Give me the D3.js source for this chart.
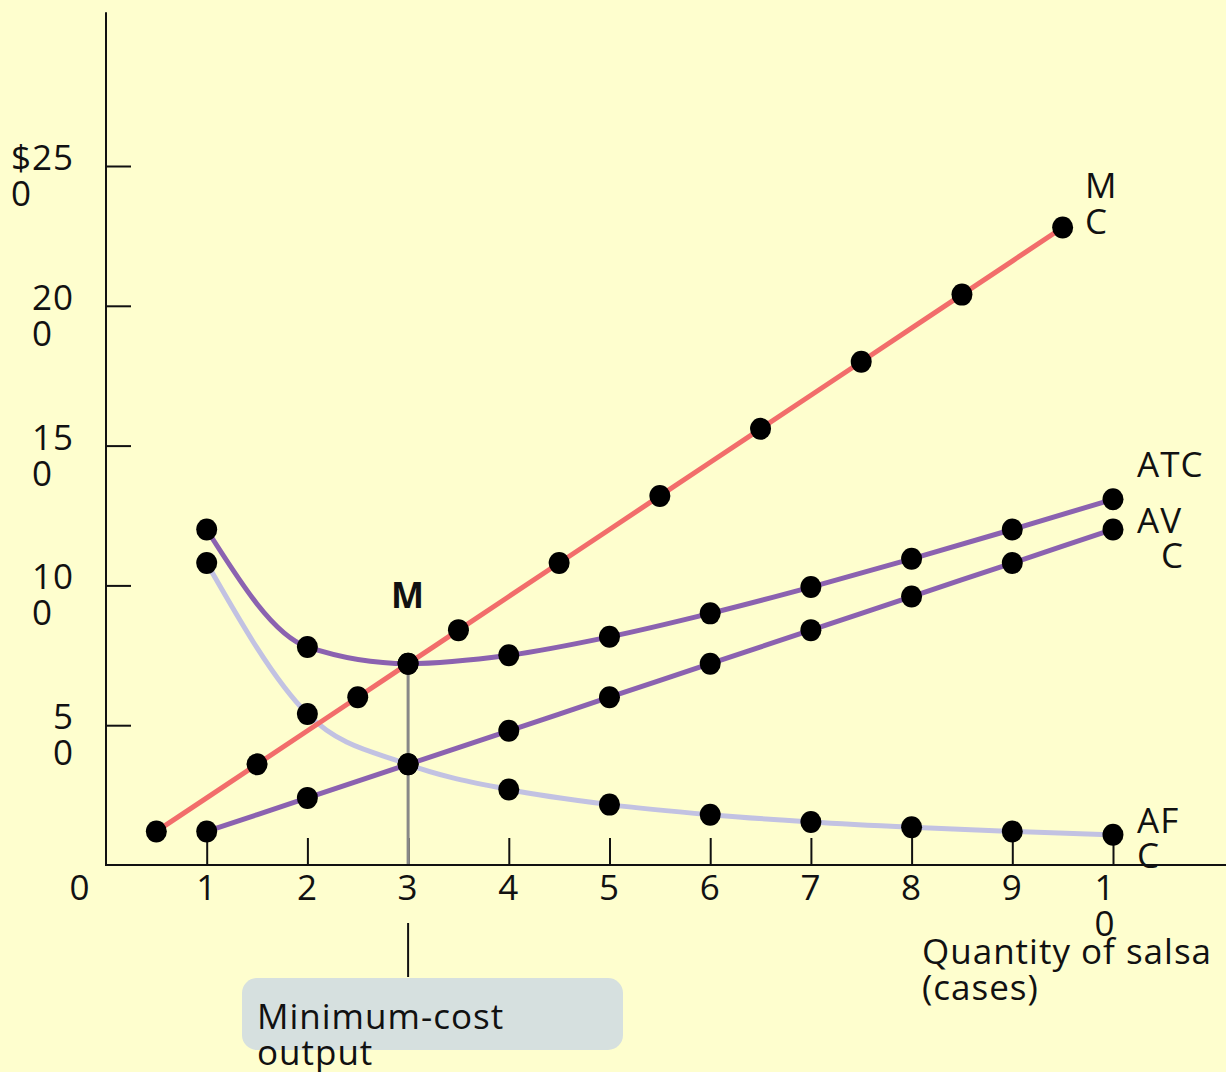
<!DOCTYPE html>
<html>
<head>
<meta charset="utf-8">
<script src="https://cdn.jsdelivr.net/npm/d3@7"></script>
<style>
  html, body { margin: 0; padding: 0; background: #FEFECE; }
  svg { display: block; }
  text { font-family: "Open Sans", "Noto Sans", sans-serif; fill: #111; letter-spacing: 1px; }
</style>
</head>
<body>
<svg id="chart" width="1226" height="1072"></svg>
<script>
// Output quantities (cases of salsa) and cost per case
const quantities = [1, 2, 3, 4, 5, 6, 7, 8, 9, 10];
const afc = [108, 54, 36, 27, 21.6, 18, 15.4, 13.5, 12, 10.8];
const avc = [12, 24, 36, 48, 60, 72, 84, 96, 108, 120];
const atc = [120, 78, 72, 75, 81.6, 90, 99.4, 109.5, 120, 130.8];
// Marginal cost is plotted at midpoints between output levels (plus the minimum point at 3)
const mcQuantities = [0.5, 1.5, 2.5, 3, 3.5, 4.5, 5.5, 6.5, 7.5, 8.5, 9.5];
const mc = [12, 36, 60, 72, 84, 108, 132, 156, 180, 204, 228];

const xTicks = [1, 2, 3, 4, 5, 6, 7, 8, 9, 10];
const xTickLabels = [["1"], ["2"], ["3"], ["4"], ["5"], ["6"], ["7"], ["8"], ["9"], ["1", "0"]];
const yTicks = [50, 100, 150, 200, 250];
const yTickLabels = [["5", "0"], ["10", "0"], ["15", "0"], ["20", "0"], ["$25", "0"]];
const minCostQ = 3;
const minCostATC = 72;

const svg = d3.select("#chart");
const W = 1226, H = 1072;

svg.append("rect").attr("width", W).attr("height", H).attr("fill", "#FEFECE");

const x = d3.scaleLinear().domain([0, 10]).range([106, 1113]);
const y = d3.scaleLinear().domain([0, 250]).range([865, 166]);
const yTop = 305;

const FS = 35;
const g = svg.append("g");

// Axis lines
g.append("line").attr("x1", x(0)).attr("x2", x(0)).attr("y1", y(yTop)).attr("y2", y(0))
  .attr("stroke", "#111").attr("stroke-width", 2);
g.append("line").attr("x1", x(0) - 1).attr("x2", W).attr("y1", y(0)).attr("y2", y(0))
  .attr("stroke", "#111").attr("stroke-width", 2);

// Tick marks: y ticks point right, x ticks point up
const yAxis = d3.axisRight(y).tickValues(yTicks).tickSize(25).tickFormat("");
const yAxisG = g.append("g").attr("transform", `translate(${x(0)},0)`).call(yAxis);
const xAxis = d3.axisTop(x).tickValues(xTicks).tickSize(27).tickFormat("");
const xAxisG = g.append("g").attr("transform", `translate(0,${y(0)})`).call(xAxis);
[yAxisG, xAxisG].forEach(a => {
  a.select(".domain").remove();
  a.selectAll(".tick line").attr("stroke", "#111").attr("stroke-width", 2);
});

// Y tick labels: first line right-aligned, second line starts under the first
yTicks.forEach((v, i) => {
  const lines = yTickLabels[i];
  const t = g.append("text").attr("font-size", FS);
  const first = t.append("tspan").attr("x", 0).attr("y", y(v) + 4).text(lines[0]);
  const w = first.node().getComputedTextLength();
  const x0 = 74 - w;
  first.attr("x", x0);
  t.append("tspan").attr("x", x0).attr("y", y(v) + 40).text(lines[1]);
});

// X tick labels
xTicks.forEach((v, i) => {
  const lines = xTickLabels[i];
  const t = g.append("text").attr("font-size", FS).attr("text-anchor", "middle");
  const cx = lines.length > 1 ? x(v) - 8 : x(v);
  lines.forEach((s, j) => t.append("tspan").attr("x", cx).attr("y", 900 + j * 36).text(s));
});
g.append("text").attr("font-size", FS).attr("text-anchor", "middle")
  .attr("x", 80).attr("y", 900).text("0");

// Axis title
const xt = g.append("text").attr("font-size", FS);
xt.append("tspan").attr("x", 922).attr("y", 964).text("Quantity of salsa");
xt.append("tspan").attr("x", 922).attr("y", 1000).text("(cases)");

// Curves
const line = d3.line().curve(d3.curveMonotoneX);
function path(xs, ys, color) {
  g.append("path")
    .attr("d", line(xs.map((q, i) => [x(q), y(ys[i])])))
    .attr("fill", "none").attr("stroke", color).attr("stroke-width", 5)
    .attr("stroke-linecap", "round");
}
path(quantities, afc, "#C2C2E2");
path(quantities, avc, "#8B62B0");
path(quantities, atc, "#8B62B0");
path(mcQuantities, mc, "#F26D6B");

// Minimum-cost guide line
g.append("line").attr("x1", x(minCostQ)).attr("x2", x(minCostQ))
  .attr("y1", y(minCostATC)).attr("y2", y(0) - 1)
  .attr("stroke", "#888").attr("stroke-width", 3);

// Data points
function dots(xs, ys) {
  g.selectAll(null).data(xs.map((q, i) => [q, ys[i]])).enter()
    .append("ellipse")
    .attr("cx", d => x(d[0])).attr("cy", d => y(d[1]))
    .attr("rx", 10.5).attr("ry", 11).attr("fill", "#000");
}
dots(quantities, afc);
dots(quantities, avc);
dots(quantities, atc);
dots(mcQuantities, mc);

// Curve labels
function label(lines, xs, ys) {
  const t = g.append("text").attr("font-size", FS);
  lines.forEach((s, j) => t.append("tspan").attr("x", xs[j]).attr("y", ys[j]).text(s));
}
label(["M", "C"], [1085, 1085], [198, 234]);
label(["ATC"], [1137], [477]);
label(["AV", "C"], [1137, 1161], [533, 568]);
label(["AF", "C"], [1137, 1137], [833, 868]);

g.append("text").attr("font-size", FS).attr("font-weight", "bold")
  .attr("text-anchor", "middle").attr("x", x(minCostQ)).attr("y", 608).text("M");

// Callout for minimum-cost output
g.append("line").attr("x1", x(minCostQ)).attr("x2", x(minCostQ))
  .attr("y1", 923).attr("y2", 977).attr("stroke", "#111").attr("stroke-width", 2);
g.append("rect").attr("x", 242).attr("y", 978).attr("width", 381).attr("height", 72)
  .attr("rx", 15).attr("fill", "#D6E0DF");
const ct = g.append("text").attr("font-size", FS);
ct.append("tspan").attr("x", 257).attr("y", 1029).text("Minimum-cost");
ct.append("tspan").attr("x", 257).attr("y", 1065).text("output");
</script>
</body>
</html>
